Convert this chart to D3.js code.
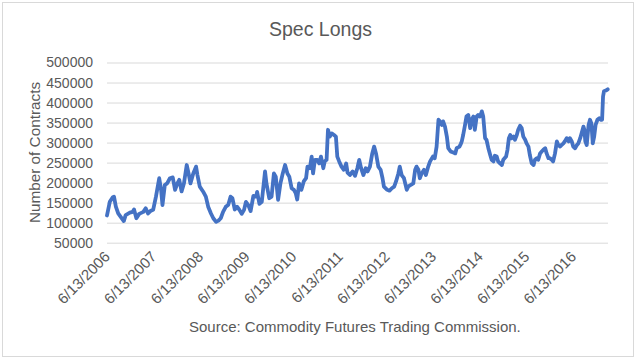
<!DOCTYPE html>
<html>
<head>
<meta charset="utf-8">
<script src="https://cdn.jsdelivr.net/npm/d3@7/dist/d3.min.js"></script>
<style>
  html, body { margin: 0; padding: 0; background: #fff; }
  svg { display: block; }
  text { font-family: "Liberation Sans", Arial, sans-serif; fill: #595959; }
</style>
</head>
<body>
<svg id="chart" width="640" height="359"></svg>
<script>
// ---- data (decimal year, contracts) ----
const years = [
  2006.45,2006.51,2006.57,2006.60,2006.64,2006.69,2006.74,2006.81,2006.85,2006.94,
  2007.00,2007.03,2007.08,2007.14,2007.23,2007.28,2007.33,2007.38,2007.44,2007.50,
  2007.57,2007.61,2007.64,2007.69,2007.74,2007.80,2007.86,2007.91,2007.96,2008.00,
  2008.05,2008.10,2008.16,2008.20,2008.24,2008.30,2008.36,2008.39,2008.44,2008.51,
  2008.57,2008.62,2008.68,2008.73,2008.79,2008.84,2008.89,2008.94,2009.00,2009.05,
  2009.10,2009.14,2009.19,2009.24,2009.29,2009.34,2009.39,2009.43,2009.48,2009.53,
  2009.59,2009.65,2009.67,2009.72,2009.77,2009.84,2009.87,2009.93,2009.98,2010.03,
  2010.07,2010.12,2010.17,2010.22,2010.27,2010.32,2010.36,2010.41,2010.46,2010.50,
  2010.53,2010.57,2010.62,2010.67,2010.72,2010.75,2010.80,2010.84,2010.87,2010.91,
  2010.96,2011.00,2011.04,2011.09,2011.12,2011.16,2011.19,2011.23,2011.27,2011.32,
  2011.36,2011.39,2011.43,2011.48,2011.53,2011.58,2011.61,2011.66,2011.72,2011.77,
  2011.82,2011.86,2011.90,2011.95,2012.00,2012.04,2012.09,2012.14,2012.18,2012.22,
  2012.27,2012.32,2012.36,2012.39,2012.45,2012.51,2012.56,2012.61,2012.65,2012.70,
  2012.73,2012.77,2012.82,2012.88,2012.91,2012.96,2013.02,2013.06,2013.09,2013.13,
  2013.16,2013.20,2013.25,2013.29,2013.34,2013.38,2013.44,2013.48,2013.52,2013.56,
  2013.59,2013.63,2013.66,2013.70,2013.74,2013.77,2013.82,2013.88,2013.92,2013.95,
  2014.01,2014.04,2014.06,2014.09,2014.13,2014.16,2014.20,2014.24,2014.27,2014.31,
  2014.34,2014.38,2014.41,2014.45,2014.49,2014.52,2014.56,2014.59,2014.63,2014.67,
  2014.70,2014.74,2014.77,2014.81,2014.84,2014.88,2014.92,2014.95,2015.01,2015.04,
  2015.07,2015.10,2015.13,2015.17,2015.20,2015.24,2015.27,2015.31,2015.345,2015.38,
  2015.42,2015.45,2015.49,2015.52,2015.56,2015.60,2015.63,2015.67,2015.70,2015.74,
  2015.77,2015.81,2015.85,2015.88,2015.92,2015.95,2015.99,2016.02,2016.06,2016.10,
  2016.13,2016.17,2016.20,2016.24,2016.27,2016.31,2016.35,2016.38,2016.42,2016.45,
  2016.49,2016.53,2016.56,2016.60,2016.63,2016.67,2016.69,2016.71,2016.74,2016.78,
  2016.81,2016.84,2016.87,2016.90,2016.93,2016.97,2017.01,2017.04,2017.07,2017.09,
  2017.11,2017.15,2017.19
];
const contracts = [
  118000,152000,163000,165000,140000,123000,115000,104000,119000,125000,
  127000,133000,111000,122000,127000,136000,123000,129000,132000,165000,
  211000,182000,144000,194000,198000,211000,213000,182000,198000,207000,
  178000,198000,244000,223000,198000,223000,240000,219000,190000,178000,
  165000,140000,123000,111000,102000,105000,111000,127000,140000,144000,
  165000,161000,133000,140000,132000,122000,132000,152000,144000,129000,
  167000,165000,177000,147000,152000,228000,198000,161000,165000,223000,
  215000,157000,198000,223000,244000,223000,215000,186000,182000,173000,
  158000,198000,182000,203000,211000,240000,236000,265000,223000,257000,
  257000,248000,265000,236000,253000,257000,332000,315000,323000,319000,
  315000,265000,253000,240000,232000,248000,225000,219000,228000,217000,
  236000,257000,236000,219000,236000,228000,240000,273000,290000,273000,
  240000,232000,211000,190000,183000,180000,186000,190000,203000,223000,
  240000,219000,211000,182000,190000,194000,198000,232000,240000,232000,
  211000,223000,232000,219000,240000,253000,265000,261000,290000,357000,
  353000,344000,353000,340000,315000,286000,278000,275000,273000,286000,
  290000,297000,303000,319000,344000,365000,369000,336000,357000,365000,
  332000,365000,369000,365000,378000,365000,311000,307000,286000,269000,
  257000,253000,267000,265000,253000,248000,244000,257000,265000,282000,
  311000,319000,311000,315000,307000,319000,332000,342000,336000,315000,
  307000,298000,290000,269000,248000,244000,257000,261000,257000,273000,
  277000,282000,286000,273000,261000,261000,257000,253000,273000,303000,
  294000,290000,294000,298000,303000,311000,303000,311000,303000,290000,
  286000,294000,298000,311000,323000,340000,332000,303000,294000,344000,
  357000,348000,298000,315000,344000,357000,361000,357000,357000,415000,
  428000,430000,433000
];
const yTicks = [50000,100000,150000,200000,250000,300000,350000,400000,450000,500000];
const xTickYears = [2006,2007,2008,2009,2010,2011,2012,2013,2014,2015,2016];
const xTickLabels = xTickYears.map(y => "6/13/" + y);
const tickOffset = 163/365; // June 13 as a fraction of the year
const titleText = "Spec Longs";
const yTitleText = "Number of Contracts";
const sourceText = "Source: Commodity Futures Trading Commission.";

// ---- layout ----
const svg = d3.select("#chart");
const plotLeft = 107, plotRight = 608, plotTop = 62.5, plotBottom = 242.7;

svg.append("rect").attr("x", 0).attr("y", 0).attr("width", 640).attr("height", 359).attr("fill", "#fff");
svg.append("rect").attr("x", 2.5).attr("y", 2.5).attr("width", 631).attr("height", 354)
   .attr("fill", "none").attr("stroke", "#d9d9d9").attr("stroke-width", 1);

const x = d3.scaleLinear().domain([years[0], years[years.length - 1]]).range([plotLeft, plotRight - 0.3]);
const y = d3.scaleLinear().domain([50000, 500000]).range([plotBottom, plotTop]);

// gridlines + y labels via axis
const yAxis = d3.axisLeft(y).tickValues(yTicks).tickSize(-(plotRight - plotLeft)).tickPadding(14).tickFormat(d3.format("d"));
const gy = svg.append("g").attr("transform", `translate(${plotLeft},0)`).call(yAxis);
gy.select(".domain").remove();
gy.selectAll(".tick line").attr("stroke", "#d9d9d9").attr("stroke-width", 1);
gy.selectAll(".tick text").attr("fill", "#595959").style("font-size", "14px")
  .style("font-family", "'Liberation Sans', Arial, sans-serif");

// x tick labels (rotated)
const xTickVals = xTickYears.map(v => v + tickOffset);
const gx = svg.append("g");
gx.selectAll("text").data(xTickVals).enter().append("text")
  .attr("transform", d => `translate(${x(d) + 4},${plotBottom + 15}) rotate(-45)`)
  .attr("text-anchor", "end")
  .style("font-size", "15px")
  .text((d, i) => xTickLabels[i]);

// line
const pts = years.map((yr, i) => [yr, contracts[i]]);
const line = d3.line().x(d => x(d[0])).y(d => y(d[1]));
svg.append("path").datum(pts).attr("d", line)
  .attr("fill", "none").attr("stroke", "#4472c4").attr("stroke-width", 3.8)
  .attr("stroke-linejoin", "round").attr("stroke-linecap", "round");

// titles
svg.append("text").attr("x", 320.5).attr("y", 36).attr("text-anchor", "middle")
  .style("font-size", "19.5px").text(titleText);
svg.append("text").attr("transform", `translate(39.5,152.5) rotate(-90)`).attr("text-anchor", "middle")
  .style("font-size", "15.3px").text(yTitleText);
svg.append("text").attr("x", 189).attr("y", 332).style("font-size", "15px").text(sourceText);
</script>
</body>
</html>
